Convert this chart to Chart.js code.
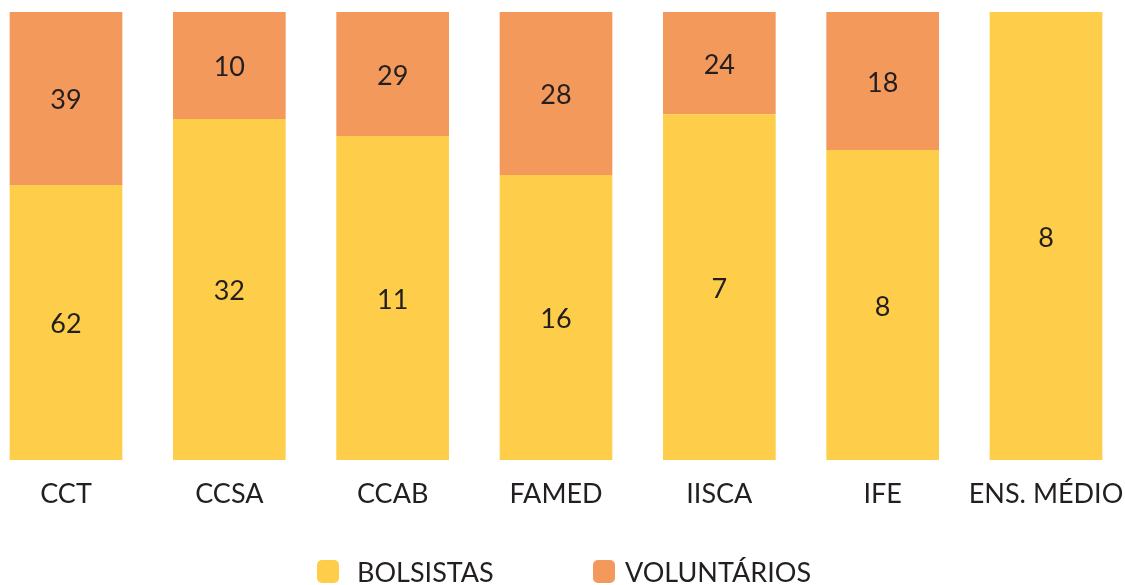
<!DOCTYPE html>
<html lang="pt">
<head>
    <meta charset="UTF-8">
    <title>Bolsistas e Voluntários</title>
    <script src="https://cdn.jsdelivr.net/npm/chart.js"></script>
    <style>
        html, body { margin: 0; padding: 0; background: #fff; }
        #wrap { width: 1125px; height: 585px; }
    </style>
</head>
<body>
    <div id="wrap"><canvas id="chart" width="1125" height="585"></canvas></div>
    <script>
        // categories on the x axis
        const categories = ['CCT', 'CCSA', 'CCAB', 'FAMED', 'IISCA', 'IFE', 'ENS. MÉDIO'];
        // share of each bar (percent of full height)
        const bolsistasPct = [61.4, 76.1, 72.3, 63.6, 77.2, 69.2, 100];
        const voluntariosPct = [38.6, 23.9, 27.7, 36.4, 22.8, 30.8, 0];
        // numbers printed inside the segments
        const bolsistasLabels = ['62', '32', '11', '16', '7', '8', '8'];
        const voluntariosLabels = ['39', '10', '29', '28', '24', '18', ''];

        const FONT = 'Lato, "Open Sans", sans-serif';
        const TEXT = '#231F20';

        // writes the printed numbers in the middle of each segment
        const segmentLabels = {
            id: 'segmentLabels',
            afterDatasetsDraw(chart) {
                const ctx = chart.ctx;
                ctx.save();
                ctx.font = '27px ' + FONT;
                ctx.fillStyle = TEXT;
                ctx.textAlign = 'center';
                ctx.textBaseline = 'middle';
                chart.data.datasets.forEach((ds, i) => {
                    chart.getDatasetMeta(i).data.forEach((bar, j) => {
                        const txt = ds.printed[j];
                        if (!txt) return;
                        const mid = (bar.y + bar.base) / 2;
                        ctx.fillText(txt, bar.x, mid + 2);
                    });
                });
                ctx.restore();
            }
        };

        // legend at the bottom, spaced like the original
        const legendSpots = [{ box: 317, text: 357 }, { box: 593, text: 625 }];
        const bottomLegend = {
            id: 'bottomLegend',
            afterDraw(chart) {
                const ctx = chart.ctx;
                ctx.save();
                ctx.font = '27px ' + FONT;
                ctx.textBaseline = 'middle';
                ctx.textAlign = 'left';
                chart.data.datasets.forEach((ds, i) => {
                    const spot = legendSpots[i];
                    ctx.fillStyle = ds.backgroundColor;
                    ctx.beginPath();
                    ctx.roundRect(spot.box, 560, 22, 23, 5);
                    ctx.fill();
                    ctx.fillStyle = TEXT;
                    ctx.fillText(ds.label, spot.text, 573);
                });
                ctx.restore();
            }
        };

        const ctx = document.getElementById('chart').getContext('2d');
        new Chart(ctx, {
            type: 'bar',
            data: {
                labels: categories,
                datasets: [
                    {
                        label: 'BOLSISTAS',
                        data: bolsistasPct,
                        printed: bolsistasLabels,
                        backgroundColor: '#FECE4A',
                        clip: false
                    },
                    {
                        label: 'VOLUNTÁRIOS',
                        data: voluntariosPct,
                        printed: voluntariosLabels,
                        backgroundColor: '#F4995C',
                        clip: false
                    }
                ]
            },
            options: {
                responsive: false,
                animation: false,
                categoryPercentage: 0.69,
                barPercentage: 1,
                layout: { padding: { left: 66, right: 79, top: 12, bottom: 0 } },
                scales: {
                    x: {
                        stacked: true,
                        offset: false,
                        grid: { display: false },
                        border: { display: false },
                        ticks: {
                            color: TEXT,
                            font: { family: FONT, size: 27 },
                            padding: 10,
                            maxRotation: 0,
                            autoSkip: false
                        },
                        afterFit(scale) {
                            scale.height = 125;
                            scale.paddingLeft = 0;
                            scale.paddingRight = 0;
                        }
                    },
                    y: {
                        stacked: true,
                        display: false,
                        min: 0,
                        max: 100
                    }
                },
                plugins: {
                    tooltip: { enabled: false },
                    legend: { display: false }
                }
            },
            plugins: [segmentLabels, bottomLegend]
        });
    </script>
</body>
</html>
